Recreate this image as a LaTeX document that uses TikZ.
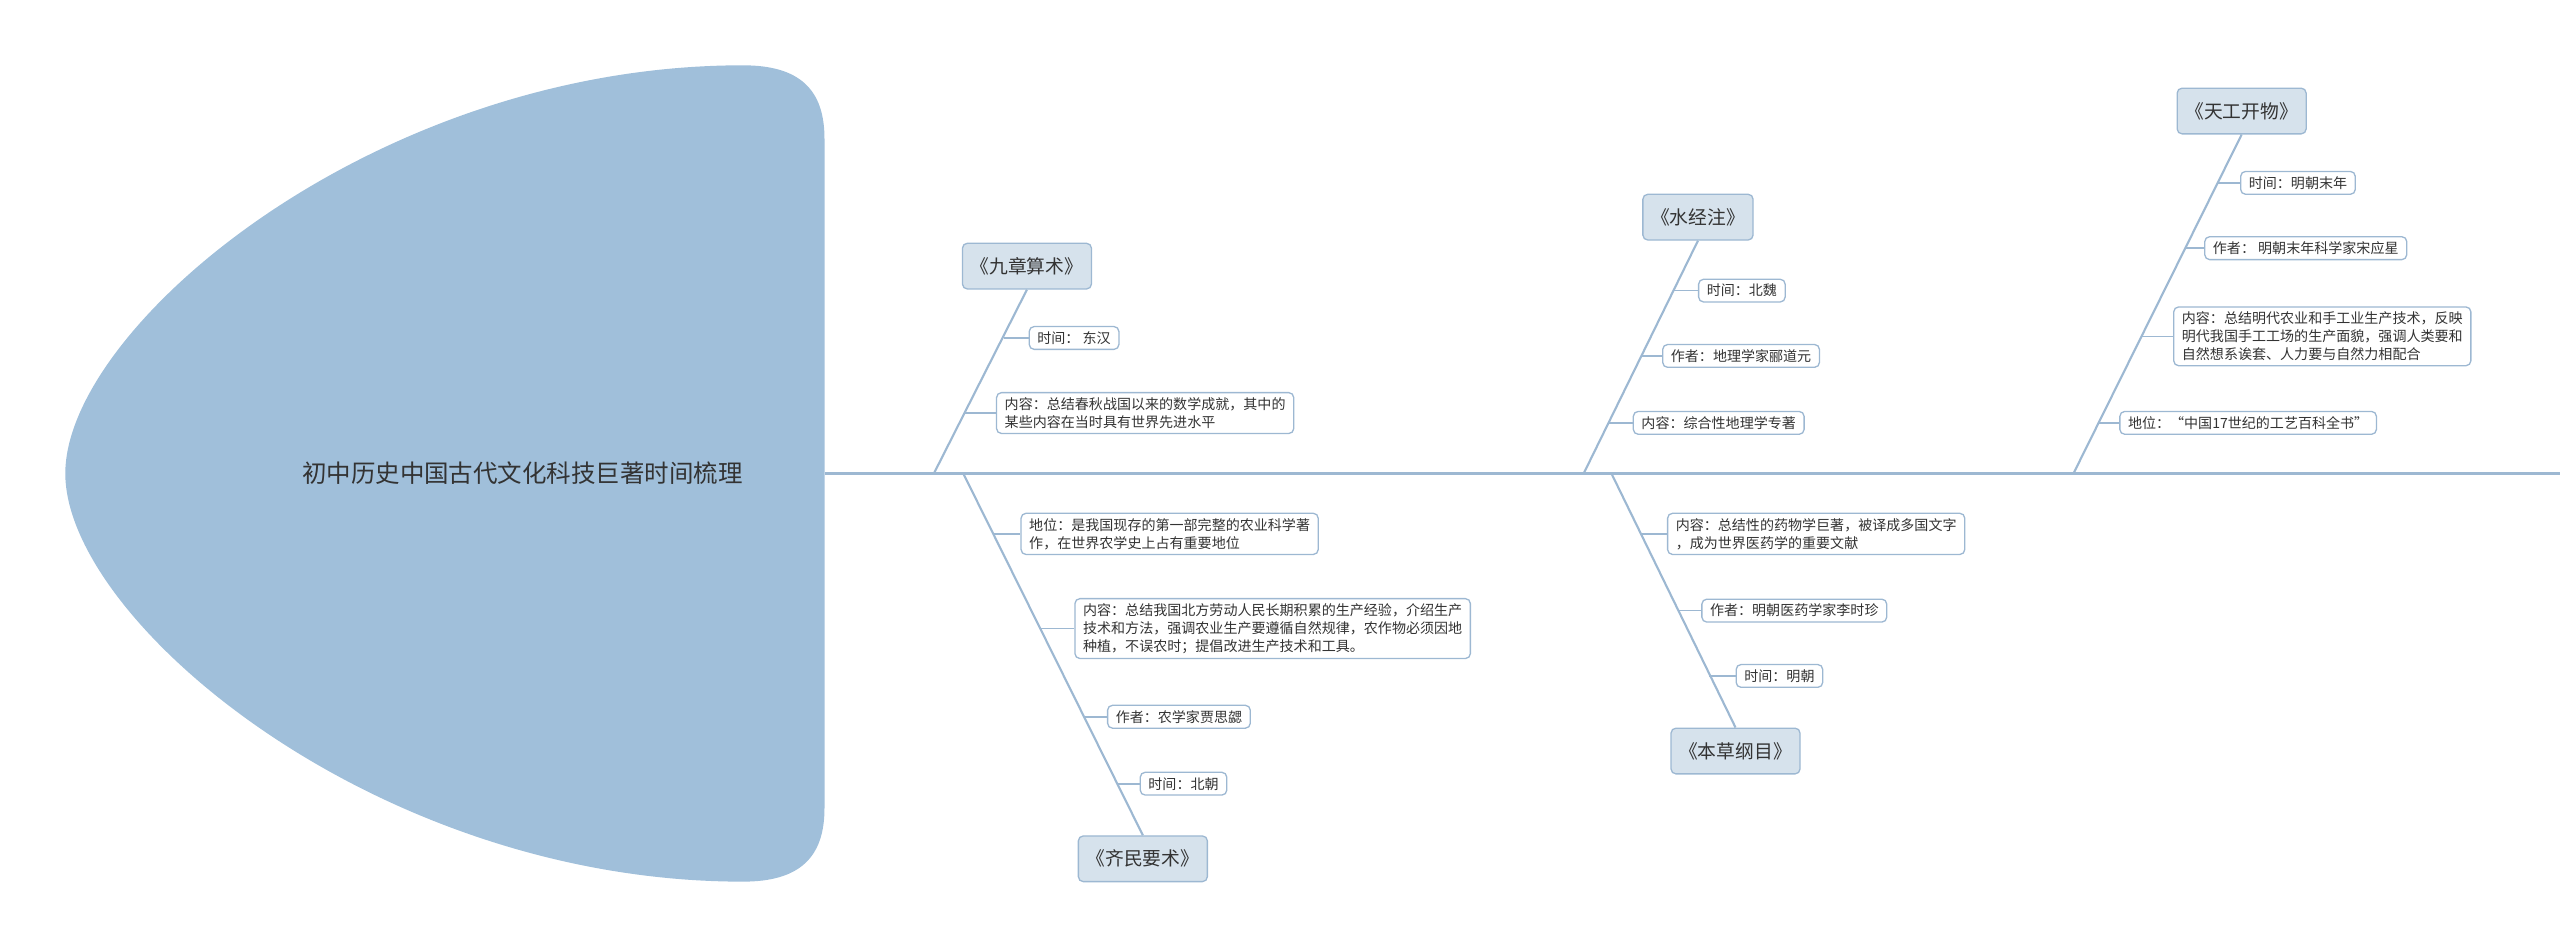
\documentclass[tikz,border=0pt]{standalone}
\usepackage{fontspec}
\setmainfont{Noto Sans CJK SC}
\definecolor{ln}{HTML}{9DB8D2}
\definecolor{hd}{HTML}{A0BFDA}
\definecolor{lb}{HTML}{D6E2EC}
\definecolor{tx}{HTML}{333333}
\tikzset{
 leaf/.style={draw=ln,line width=0.8pt,fill=white,rounded corners=3pt,anchor=west,font=\fontsize{8.6}{11}\selectfont,text=tx,inner xsep=5pt,inner ysep=3pt,align=left},
 lab/.style={draw=ln,line width=0.8pt,fill=lb,rounded corners=3pt,font=\fontsize{11.5}{13}\selectfont,text=tx,minimum height=28pt,inner xsep=5pt},
 br/.style={draw=ln,line width=1.3pt},
 tk/.style={draw=ln,line width=1pt}
}
\begin{document}
\begin{tikzpicture}[x=1pt,y=-1pt]
\useasboundingbox (0,0) rectangle (1568,581);
% head
\fill[hd] (505,85) .. controls (505,55) and (490,40) .. (455,40)
 .. controls (230,40) and (40,200) .. (40,290)
 .. controls (40,380) and (230,540) .. (455,540)
 .. controls (490,540) and (505,525) .. (505,495) -- cycle;
\node[font=\fontsize{15}{17}\selectfont,text=tx] (root) at (320,290) {初中历史中国古代文化科技巨著时间梳理};
\coordinate (s0) at (505,290); \coordinate (s1) at (1568,290);
\draw[br] (s0) -- (s1);
% 九章算术
\node[lab] (a) at (629,163) {《九章算术》};
\coordinate (a0) at (572,290);
\draw[br] (a0) -- (a.south);
\node[leaf] (a1) at (630,207) {时间：~东汉};
\node[leaf] (a2) at (610,253) {内容：总结春秋战国以来的数学成就，其中的\\某些内容在当时具有世界先进水平};
\coordinate (a1t) at (615,207); \coordinate (a2t) at (591,253);
\draw[tk] (a1t) -- (a1.west); \draw[tk] (a2t) -- (a2.west);
% 齐民要术
\node[lab] (b) at (700,526) {《齐民要术》};
\coordinate (b0) at (590,290);
\draw[br] (b0) -- (b.north);
\node[leaf] (b1) at (625,327) {地位：是我国现存的第一部完整的农业科学著\\作，在世界农学史上占有重要地位};
\node[leaf] (b2) at (658,385) {内容：总结我国北方劳动人民长期积累的生产经验，介绍生产\\技术和方法，强调农业生产要遵循自然规律，农作物必须因地\\种植，不误农时；提倡改进生产技术和工具。};
\node[leaf] (b3) at (678,439) {作者：农学家贾思勰};
\node[leaf] (b4) at (698,480) {时间：北朝};
\coordinate (b1t) at (608,327); \coordinate (b2t) at (637,385);
\coordinate (b3t) at (664,439); \coordinate (b4t) at (684,480);
\foreach \i in {1,2,3,4} \draw[tk] (b\i t) -- (b\i.west);
% 水经注
\node[lab] (c) at (1040,133) {《水经注》};
\coordinate (c0) at (970,290);
\draw[br] (c0) -- (c.south);
\node[leaf] (c1) at (1040,178) {时间：北魏};
\node[leaf] (c2) at (1018,218) {作者：地理学家郦道元};
\node[leaf] (c3) at (1000,259) {内容：综合性地理学专著};
\coordinate (c1t) at (1025,178); \coordinate (c2t) at (1005,218); \coordinate (c3t) at (985,259);
\foreach \i in {1,2,3} \draw[tk] (c\i t) -- (c\i.west);
% 本草纲目
\node[lab] (d) at (1063,460) {《本草纲目》};
\coordinate (d0) at (987,290);
\draw[br] (d0) -- (d.north);
\node[leaf] (d1) at (1021,327) {内容：总结性的药物学巨著，被译成多国文字\\，成为世界医药学的重要文献};
\node[leaf] (d2) at (1042,374) {作者：明朝医药学家李时珍};
\node[leaf] (d3) at (1063,414) {时间：明朝};
\coordinate (d1t) at (1005,327); \coordinate (d2t) at (1028,374); \coordinate (d3t) at (1047,414);
\foreach \i in {1,2,3} \draw[tk] (d\i t) -- (d\i.west);
% 天工开物
\node[lab] (e) at (1373,68) {《天工开物》};
\coordinate (e0) at (1270,290);
\draw[br] (e0) -- (e.south);
\node[leaf] (e1) at (1372,112) {时间：明朝末年};
\node[leaf] (e2) at (1350,152) {作者：~明朝末年科学家宋应星};
\node[leaf] (e3) at (1331,206) {内容：总结明代农业和手工业生产技术，反映\\明代我国手工工场的生产面貌，强调人类要和\\自然想系诶套、人力要与自然力相配合};
\node[leaf] (e4) at (1298,259) {地位：“中国17世纪的工艺百科全书”};
\coordinate (e1t) at (1358,112); \coordinate (e2t) at (1338,152);
\coordinate (e3t) at (1312,206); \coordinate (e4t) at (1285,259);
\foreach \i in {1,2,3,4} \draw[tk] (e\i t) -- (e\i.west);
\end{tikzpicture}
\end{document}
